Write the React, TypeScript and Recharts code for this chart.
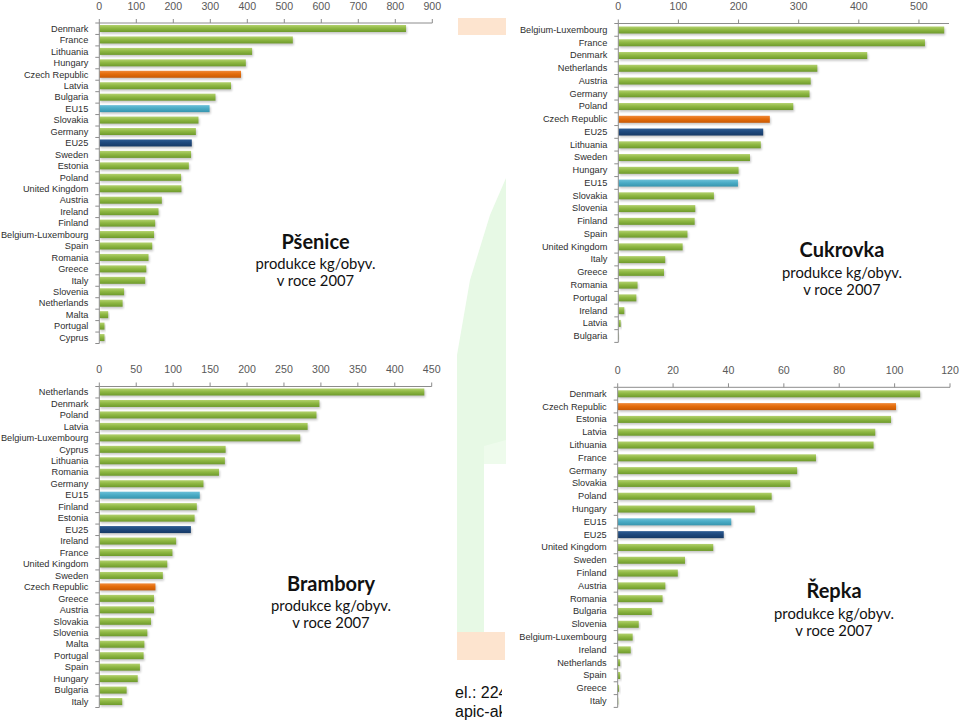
import React from "react";
import { BarChart, Bar, XAxis, YAxis } from "recharts";

// ---------- data ----------
const pseniceCategories = ["Denmark","France","Lithuania","Hungary","Czech Republic","Latvia","Bulgaria","EU15","Slovakia","Germany","EU25","Sweden","Estonia","Poland","United Kingdom","Austria","Ireland","Finland","Belgium-Luxembourg","Spain","Romania","Greece","Italy","Slovenia","Netherlands","Malta","Portugal","Cyprus"];
const psenice = [829,523,413,396,383,356,314,298,268,261,250,248,242,221,222,169,160,151,148,143,133,127,124,67,63,24,14,14];
const psTicks = [0,100,200,300,400,500,600,700,800,900];

const cukrovkaCategories = ["Belgium-Luxembourg","France","Denmark","Netherlands","Austria","Germany","Poland","Czech Republic","EU25","Lithuania","Sweden","Hungary","EU15","Slovakia","Slovenia","Finland","Spain","United Kingdom","Italy","Greece","Romania","Portugal","Ireland","Latvia","Bulgaria"];
const cukrovka = [542,510,414,331,320,318,291,252,241,237,219,200,199,159,128,127,115,107,78,76,32,30,10,4,1];
const cuTicks = [0,100,200,300,400,500];

const bramboryCategories = ["Netherlands","Denmark","Poland","Latvia","Belgium-Luxembourg","Cyprus","Lithuania","Romania","Germany","EU15","Finland","Estonia","EU25","Ireland","France","United Kingdom","Sweden","Czech Republic","Greece","Austria","Slovakia","Slovenia","Malta","Portugal","Spain","Hungary","Bulgaria","Italy"];
const brambory = [440,298,294,282,272,171,170,162,141,136,132,129,124,104,99,92,86,76,74,74,70,65,61,60,55,52,37,31];
const brTicks = [0,50,100,150,200,250,300,350,400,450];

const repkaCategories = ["Denmark","Czech Republic","Estonia","Latvia","Lithuania","France","Germany","Slovakia","Poland","Hungary","EU15","EU25","United Kingdom","Sweden","Finland","Austria","Romania","Bulgaria","Slovenia","Belgium-Luxembourg","Ireland","Netherlands","Spain","Greece","Italy"];
const repka = [109.2,100.5,98.7,93,92.4,71.6,64.8,62.3,55.6,49.5,41,38.3,34.5,24.3,21.7,17.2,16.2,12.3,7.6,5.4,4.7,0.9,0.9,0.5,0.2];
const reTicks = [0,20,40,60,80,100,120];

const subtitle1 = "produkce kg/obyv.";
const subtitle2 = "v roce 2007";
const footLine1 = "el.: 224";
const footLine2 = "apic-ak";

// ---------- styles ----------
const AXIS = "#8c8c8c";
const LABEL_FONT = "'Liberation Sans', Arial, sans-serif";

function barFill(name: string, pid: string) {
  if (name === "Czech Republic") return `url(#${pid}-or)`;
  if (name === "EU15") return `url(#${pid}-lb)`;
  if (name === "EU25") return `url(#${pid}-db)`;
  return `url(#${pid}-gr)`;
}

function makeShape(pid: string) {
  return (props: any) => {
    const { x, y, width, height, payload } = props;
    if (!(width > 0)) return <g />;
    return (
      <g>
        <rect x={x + 1} y={y + 1.8} width={width} height={height} fill="#000" opacity={0.22} filter={`url(#${pid}-blur)`} />
        <rect x={x} y={y} width={width} height={height} fill={barFill(payload.name, pid)} />
      </g>
    );
  };
}

function makeYTick(band: number, last: string) {
  return (props: any) => {
    const { x, y, payload } = props;
    const ax = x + 11;
    return (
      <g>
        <text x={x} y={y} textAnchor="end" dominantBaseline="central" fontSize={9.2} fill="#2e2e2e" fontFamily={LABEL_FONT}>
          {payload.value}
        </text>
        <line x1={ax - 4} x2={ax} y1={y - band / 2} y2={y - band / 2} stroke={AXIS} />
        {payload.value === last && <line x1={ax - 4} x2={ax} y1={y + band / 2} y2={y + band / 2} stroke={AXIS} />}
      </g>
    );
  };
}

const XTick = (props: any) => {
  const { x, y, payload } = props;
  return (
    <text x={x} y={y - 13.5} textAnchor="middle" dominantBaseline="central" fontSize={10.6} fill="#595959" fontFamily={LABEL_FONT}>
      {payload.value}
    </text>
  );
};

function Defs({ pid }: { pid: string }) {
  return (
    <defs>
      <filter id={`${pid}-blur`} x="-5%" y="-50%" width="110%" height="200%">
        <feGaussianBlur stdDeviation="0.9" />
      </filter>
      <linearGradient id={`${pid}-gr`} x1="0" y1="0" x2="0" y2="1">
        <stop offset="0%" stopColor="#b3d16e" />
        <stop offset="45%" stopColor="#8fb843" />
        <stop offset="100%" stopColor="#6e9a2c" />
      </linearGradient>
      <linearGradient id={`${pid}-or`} x1="0" y1="0" x2="0" y2="1">
        <stop offset="0%" stopColor="#f08a3a" />
        <stop offset="45%" stopColor="#e46c0a" />
        <stop offset="100%" stopColor="#c85a06" />
      </linearGradient>
      <linearGradient id={`${pid}-lb`} x1="0" y1="0" x2="0" y2="1">
        <stop offset="0%" stopColor="#6cc0d8" />
        <stop offset="45%" stopColor="#4bacc6" />
        <stop offset="100%" stopColor="#3795ae" />
      </linearGradient>
      <linearGradient id={`${pid}-db`} x1="0" y1="0" x2="0" y2="1">
        <stop offset="0%" stopColor="#2e5c92" />
        <stop offset="45%" stopColor="#1f497d" />
        <stop offset="100%" stopColor="#173a66" />
      </linearGradient>
    </defs>
  );
}

type PanelProps = {
  pid: string;
  cats: string[];
  vals: number[];
  ticks: number[];
  domainMax: number;
  left: number;
  top: number;
  width: number;
  height: number;
  yWidth: number;
  xHeight: number;
  right: number;
  bottom: number;
};

function Panel(p: PanelProps) {
  const data = p.cats.map((c, i) => ({ name: c, value: p.vals[i] }));
  const plotH = p.height - p.xHeight - p.bottom;
  const band = plotH / p.cats.length;
  return (
    <div style={{ position: "absolute", left: p.left, top: p.top, width: p.width, height: p.height }}>
      <BarChart
        width={p.width}
        height={p.height}
        data={data}
        layout="vertical"
        margin={{ top: 0, right: p.right, bottom: p.bottom, left: 0 }}
        barSize={7}
        style={{ overflow: "visible" }}
      >
        <Defs pid={p.pid} />
        <XAxis
          type="number"
          orientation="top"
          domain={[0, p.domainMax]}
          ticks={p.ticks}
          allowDataOverflow
          height={p.xHeight}
          tickSize={4}
          tickMargin={0}
          tick={XTick}
          tickLine={{ stroke: AXIS }}
          axisLine={{ stroke: AXIS }}
          interval={0}
        />
        <YAxis
          type="category"
          dataKey="name"
          width={p.yWidth}
          tickSize={0}
          tickMargin={11}
          tickLine={false}
          axisLine={{ stroke: AXIS }}
          tick={makeYTick(band, p.cats[p.cats.length - 1])}
          interval={0}
        />
        <Bar dataKey="value" isAnimationActive={false} shape={makeShape(p.pid)} />
      </BarChart>
    </div>
  );
}

function Title({ cx, cy, title }: { cx: number; cy: number; title: string }) {
  const common: React.CSSProperties = {
    position: "absolute",
    transform: "translate(-50%, -50%)",
    whiteSpace: "nowrap",
    fontFamily: "Lato, 'Open Sans', sans-serif",
    color: "#111",
    lineHeight: 1,
  };
  return (
    <>
      <div style={{ ...common, left: cx, top: cy, fontSize: 20, fontWeight: 700 }}>{title}</div>
      <div style={{ ...common, left: cx, top: cy + 22.5, fontSize: 14.8 }}>{subtitle1}</div>
      <div style={{ ...common, left: cx, top: cy + 39.5, fontSize: 14.8 }}>{subtitle2}</div>
    </>
  );
}

export default function App() {
  return (
    <div style={{ position: "absolute", left: 0, top: 0, width: 960, height: 722, background: "#fff", overflow: "hidden" }}>
      <svg width={960} height={722} style={{ position: "absolute", left: 0, top: 0 }}>
        <polygon points="506,178 490,215 470,280 457,355 457,633 484,633 484,464 506,464" fill="#e7f9e5" />
        <polygon points="484,446 506,440 506,464 484,464" fill="#eefbec" />
        <rect x={458} y={18} width={48} height={17} fill="#fde4cf" />
        <rect x={457} y={632} width={48} height={28} fill="#fde4cf" />
      </svg>
      <div style={{ position: "absolute", left: 455, top: 683, width: 47, height: 39, overflow: "hidden", fontFamily: "'Liberation Sans', Arial, sans-serif", fontSize: 16, lineHeight: "19px", color: "#111", whiteSpace: "nowrap" }}>
        <div>{footLine1}</div>
        <div>{footLine2}</div>
      </div>

      <Panel pid="ps" cats={pseniceCategories} vals={psenice} ticks={psTicks} domainMax={900}
        left={0} top={0} width={460} height={360} yWidth={99.3} xHeight={23} right={27.7} bottom={16.5} />
      <Panel pid="cu" cats={cukrovkaCategories} vals={cukrovka} ticks={cuTicks} domainMax={550}
        left={500} top={0} width={460} height={360} yWidth={118.3} xHeight={23.5} right={11} bottom={17.6} />
      <Panel pid="br" cats={bramboryCategories} vals={brambory} ticks={brTicks} domainMax={450}
        left={0} top={355} width={460} height={367} yWidth={99.3} xHeight={31.5} right={28.3} bottom={14.5} />
      <Panel pid="re" cats={repkaCategories} vals={repka} ticks={reTicks} domainMax={120}
        left={500} top={355} width={460} height={367} yWidth={117.7} xHeight={32.3} right={10} bottom={14.6} />

      <Title cx={315.5} cy={240.7} title="Pšenice" />
      <Title cx={842} cy={249.3} title="Cukrovka" />
      <Title cx={331} cy={582.7} title="Brambory" />
      <Title cx={834} cy={590} title="Řepka" />
    </div>
  );
}
